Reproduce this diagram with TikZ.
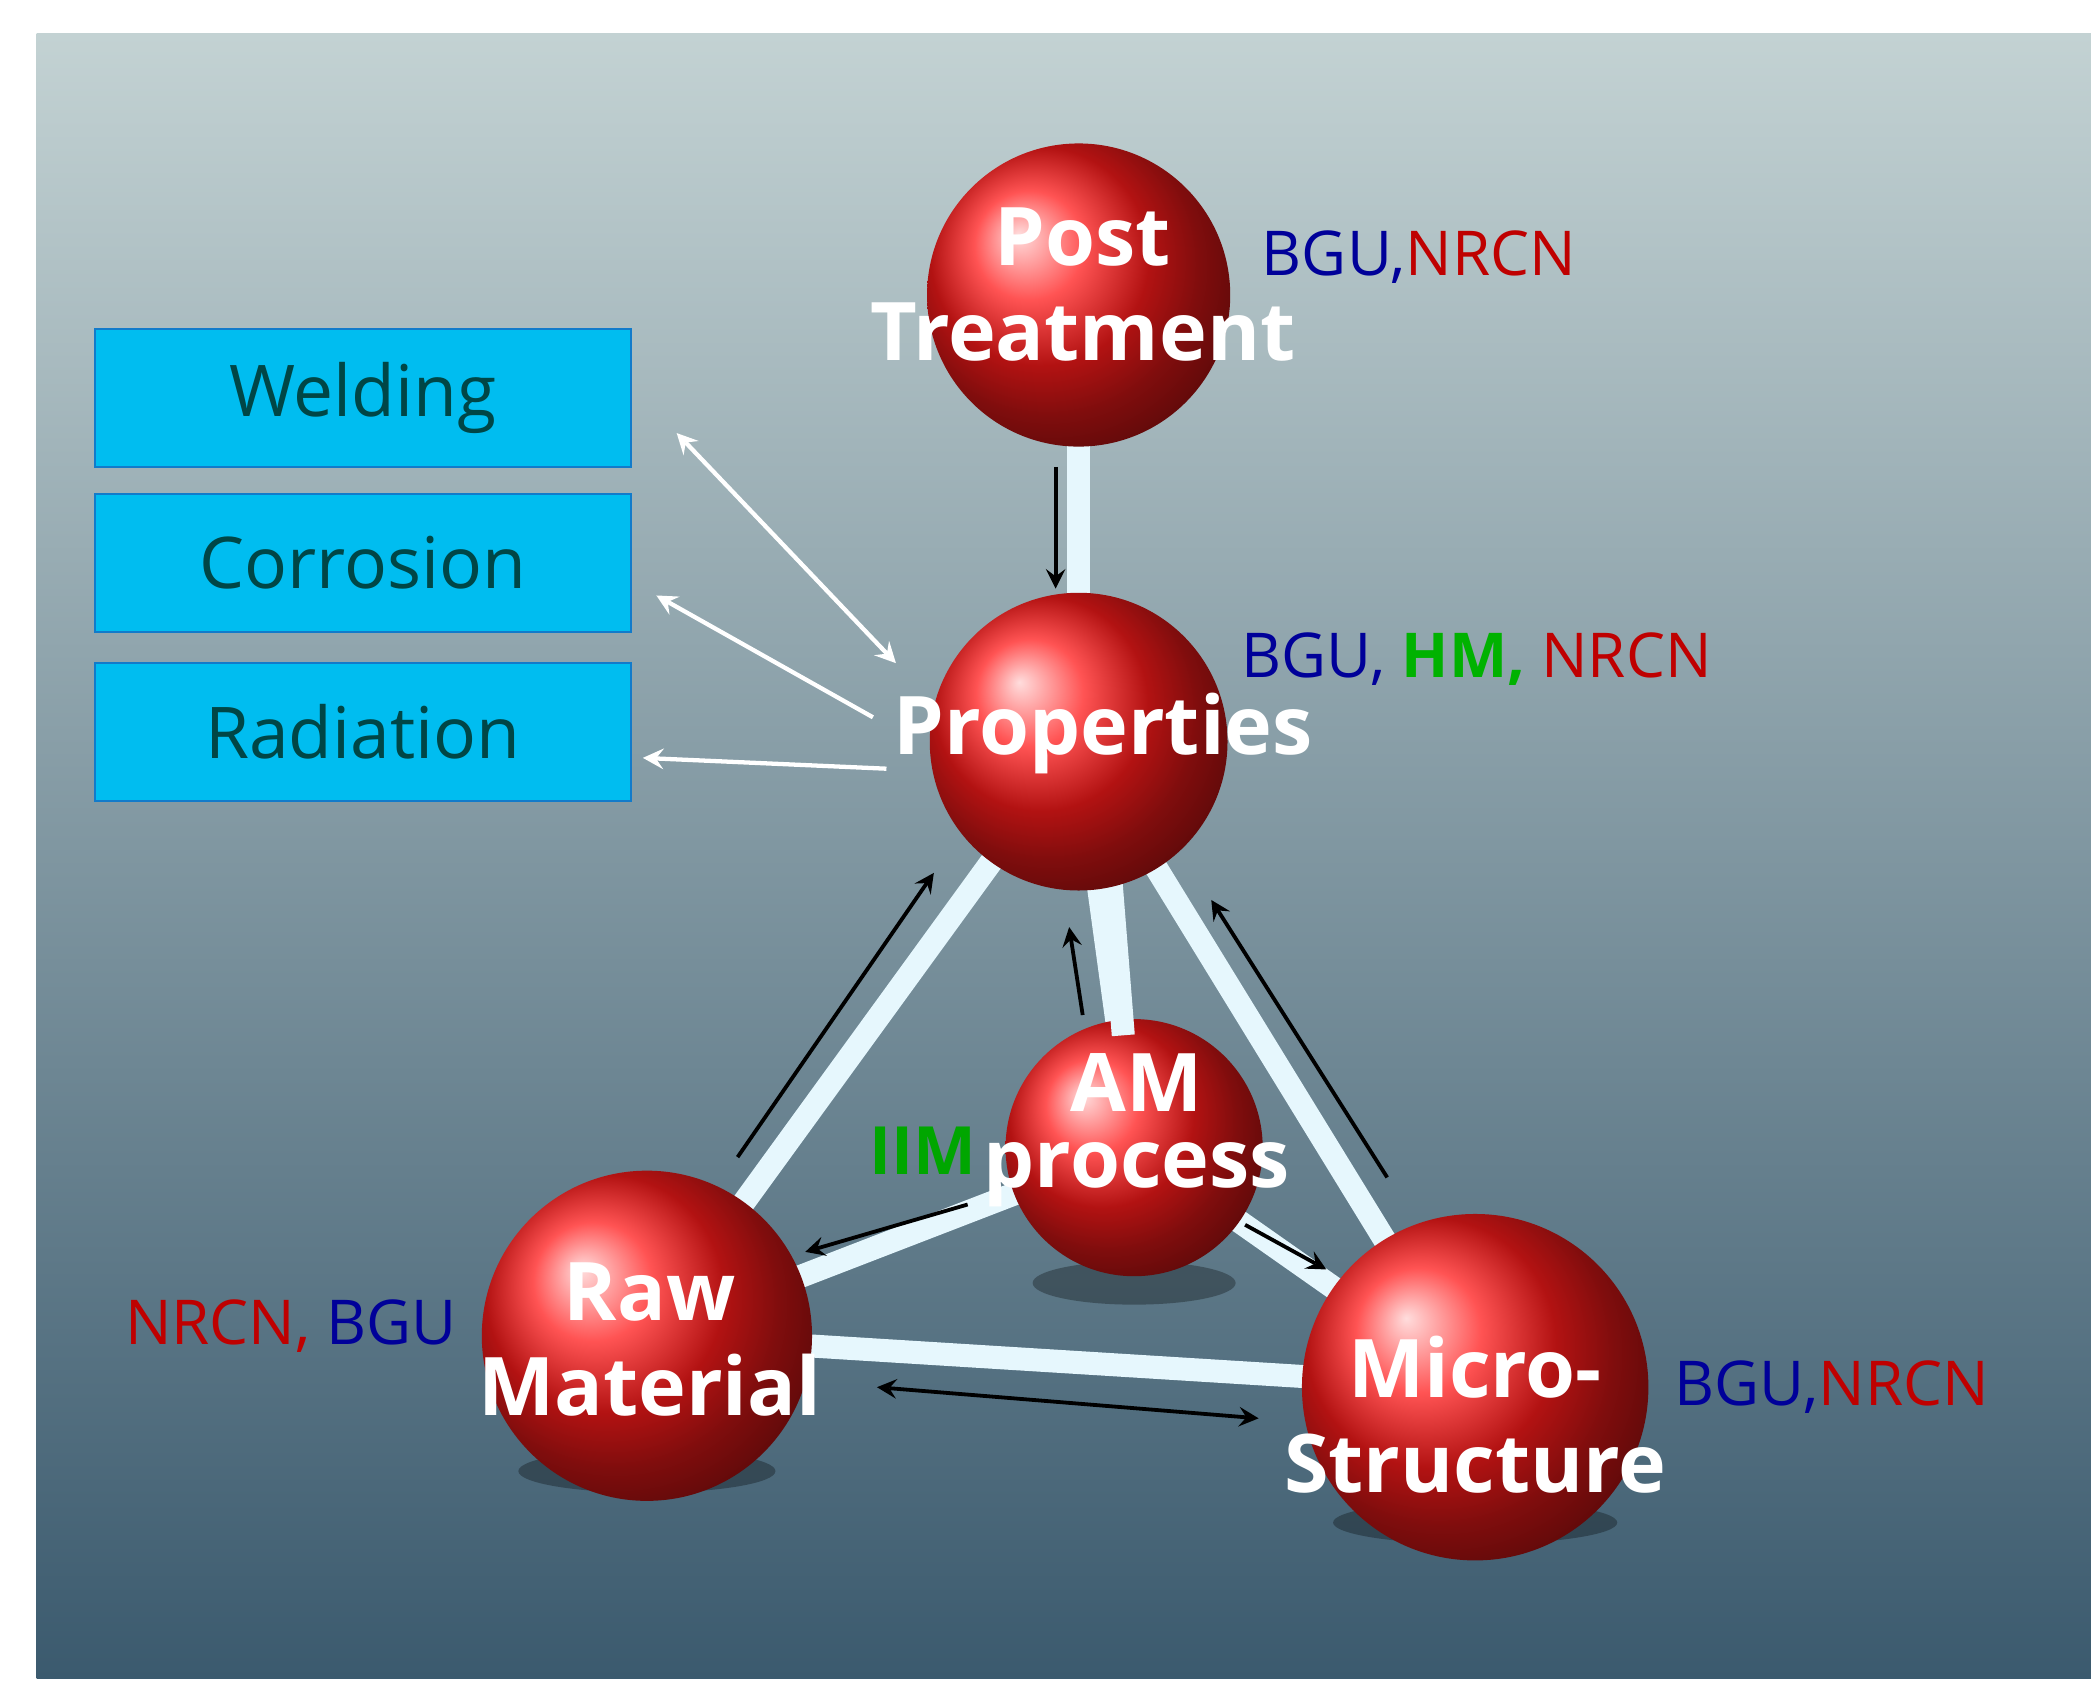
\documentclass[tikz,border=0pt]{standalone}
\usepackage{fontspec}
\setmainfont{Open Sans}
\usetikzlibrary{shadings,calc}
\definecolor{boxc}{HTML}{00BDF0}
\definecolor{bgtop}{HTML}{C3D2D3}
\definecolor{bgbot}{HTML}{3B5A6E}
\definecolor{sred}{HTML}{FF1A1A}
\begin{document}
\begin{tikzpicture}[x=1cm,y=-1cm,
  rod/.style={line width=0.17cm,draw=cyan!10!white,line cap=round},
  sph/.style={ball color=sred,circle},
  lab/.style={text=white,font=\bfseries\fontsize{17}{20}\selectfont,align=center},
  box/.style={draw=cyan!60!blue,fill=boxc,minimum width=3.96cm,minimum height=1.02cm,text=teal!55!black,font=\fontsize{15}{17}\selectfont},
  warr/.style={draw=white,line width=0.9pt,-stealth},
  barr/.style={draw=black,line width=0.8pt,-stealth},
  tag/.style={font=\fontsize{13}{15}\selectfont,anchor=west}]
\useasboundingbox (0,0) rectangle (15.48,12.45);
\fill[white] (0,0) rectangle (15.48,12.45);
\shade[top color=bgtop,bottom color=bgbot] (0.27,0.25) rectangle (15.45,12.4);
% coordinates
\coordinate (P) at (7.97,2.18);
\coordinate (Q) at (7.97,5.48);
\coordinate (A) at (8.38,8.48);
\coordinate (R) at (4.78,9.87);
\coordinate (M) at (10.9,10.25);
% shadows
\foreach \c/\w in {A/0.75,R/0.95,M/1.05}{\fill[black,opacity=0.3] ($(\c)+(0,1.0)$) ellipse (\w cm and 0.16cm);}
% rods
\draw[rod] (A) -- (Q);
\draw[rod] (A) -- (R);
\draw[rod] (A) -- (M);
\draw[rod] (P) -- (Q);
\draw[rod] (Q) -- (R);
\draw[rod] (Q) -- (M);
\draw[rod] (R) -- (M);
% spheres
\node[sph,minimum size=1.9cm] (am) at (A) {};
\draw[rod,line cap=butt] (8.2,6.4) -- (8.3,7.65);
\node[sph,minimum size=2.24cm] (pt) at (P) {};
\node[sph,minimum size=2.2cm] (pr) at (Q) {};
\node[sph,minimum size=2.44cm] (rm) at (R) {};
\node[sph,minimum size=2.56cm] (ms) at (M) {};
\node[lab] (tpt) at (8.0,2.1) {Post\\Treatment};
\node[lab] (tpr) at (8.15,5.42) {Properties};
\node[lab] (tam) at (8.4,8.35) {AM\\[-4pt]process};
\node[lab] (trm) at (4.8,9.9) {Raw\\Material};
\node[lab] (tms) at (10.9,10.45) {Micro-\\Structure};
% boxes
\node[box] (w) at (2.68,2.94) {Welding};
\node[box] (c) at (2.68,4.16) {Corrosion};
\node[box] (r) at (2.68,5.41) {Radiation};
% white arrows
\coordinate (w1) at (6.62,4.9); \coordinate (w2) at (5.0,3.2);
\draw[warr,stealth-stealth] (w2) -- (w1);
\coordinate (c1) at (6.45,5.3); \coordinate (c2) at (4.85,4.4);
\draw[warr] (c1) -- (c2);
\coordinate (r1) at (6.55,5.68); \coordinate (r2) at (4.75,5.6);
\draw[warr] (r1) -- (r2);
% black arrows
\coordinate (b1) at (7.8,3.45); \coordinate (b2) at (7.8,4.35);
\draw[barr] (b1) -- (b2);
\coordinate (b3) at (5.45,8.55); \coordinate (b4) at (6.9,6.45);
\draw[barr] (b3) -- (b4);
\coordinate (b5) at (10.25,8.7); \coordinate (b6) at (8.95,6.65);
\draw[barr] (b5) -- (b6);
\coordinate (b7) at (8.0,7.5); \coordinate (b8) at (7.9,6.85);
\draw[barr] (b7) -- (b8);
\coordinate (b9) at (7.15,8.9); \coordinate (b10) at (5.95,9.25);
\draw[barr] (b9) -- (b10);
\coordinate (b11) at (9.2,9.05); \coordinate (b12) at (9.8,9.38);
\draw[barr] (b11) -- (b12);
\coordinate (b13) at (6.48,10.25); \coordinate (b14) at (9.3,10.48);
\draw[barr,stealth-stealth] (b13) -- (b14);
% tags
\node[tag] (t1) at (9.2,1.9) {\textcolor{blue!60!black}{BGU,}\textcolor{red!75!black}{NRCN}};
\node[tag] (t2) at (9.05,4.87) {\textcolor{blue!60!black}{BGU, }\textcolor{green!70!black}{\bfseries HM, }\textcolor{red!75!black}{NRCN}};
\node[tag] (t3) at (0.8,9.8) {\textcolor{red!75!black}{NRCN, }\textcolor{blue!60!black}{BGU}};
\node[tag] (t4) at (12.25,10.25) {\textcolor{blue!60!black}{BGU,}\textcolor{red!75!black}{NRCN}};
\node[tag,font=\bfseries\fontsize{14}{16}\selectfont,text=green!65!black] (t5) at (6.3,8.5) {IIM};
\end{tikzpicture}
\end{document}
